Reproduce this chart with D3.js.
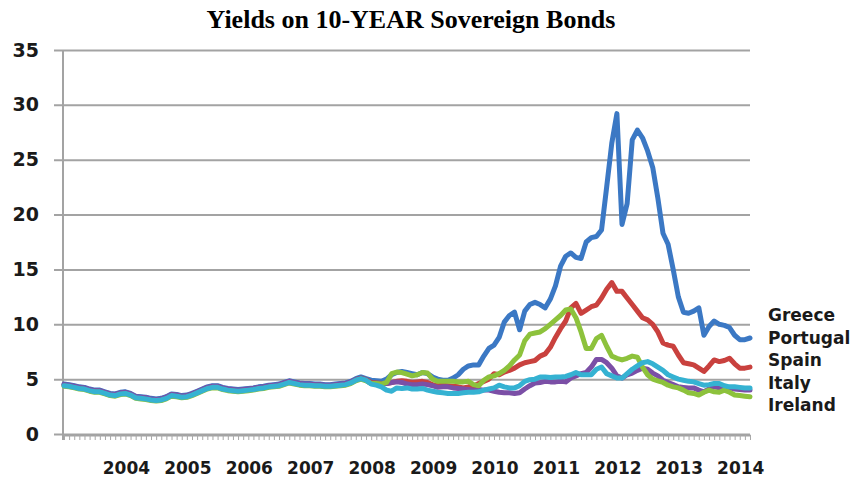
<!DOCTYPE html>
<html>
<head>
<meta charset="utf-8">
<script src="https://cdn.jsdelivr.net/npm/d3@7"></script>
<style>
  body { margin: 0; background: #fff; }
  svg { display: block; }
</style>
</head>
<body>
<div id="chart"></div>
<script>
// monthly yields, Jan 2003 .. Mar 2014
var greece = [4.55,4.5,4.4,4.3,4.25,4.1,4.0,4.0,3.85,3.7, 3.65,3.8,3.85,3.7,3.45,3.4,3.35,3.25,3.2,3.25,
  3.4,3.65,3.6,3.5,3.55,3.7,3.9,4.1,4.3,4.4, 4.4,4.25,4.15,4.1,4.05,4.1,4.15,4.2,4.3,4.35,
  4.45,4.5,4.55,4.7,4.85,4.75,4.65,4.6,4.6,4.55, 4.55,4.5,4.5,4.55,4.6,4.65,4.8,5.05,5.2,5.05,
  4.9,4.85,4.8,5.0,5.4,5.6,5.7,5.6,5.5,5.4, 5.6,5.5,5.2,5.0,4.9,4.9,5.1,5.4,5.9,6.2,
  6.3,6.3,7.1,7.8,8.1,8.8,10.2,10.8,11.1,9.5, 11.2,11.8,12.0,11.8,11.5,12.3,13.5,15.3,16.2,16.5,
  16.1,16.0,17.5,17.9,18.0,18.6,22.5,26.5,29.2,19.1, 21.0,26.8,27.7,27.0,25.8,24.3,21.5,18.3,17.3,15.0,
  12.5,11.1,11.0,11.2,11.5,9.0,9.8,10.3,10.0,9.9, 9.7,9.0,8.6,8.6,8.75];

var portugal = [4.45,4.4,4.3,4.2,4.15,4.0,3.9,3.9,3.75,3.6, 3.55,3.7,3.75,3.6,3.35,3.3,3.25,3.15,3.1,3.15,
  3.3,3.55,3.5,3.4,3.45,3.6,3.8,4.0,4.2,4.3, 4.3,4.15,4.05,4.0,3.95,4.0,4.05,4.1,4.2,4.25,
  4.35,4.4,4.45,4.6,4.75,4.65,4.55,4.5,4.5,4.45, 4.45,4.4,4.4,4.45,4.5,4.55,4.7,4.95,5.1,4.95,
  4.7,4.65,4.6,4.6,4.7,4.8,4.85,4.8,4.7,4.75, 4.8,4.7,4.5,4.4,4.45,4.4,4.35,4.3,4.2,4.3,
  4.35,4.6,4.8,5.0,5.5,5.4,5.65,5.8,6.0,6.3, 6.5,6.6,6.7,7.1,7.3,7.9,8.8,9.6,10.3,11.5,
  11.9,11.0,11.3,11.6,11.75,12.4,13.2,13.8,13.0,13.0, 12.4,11.8,11.2,10.6,10.4,10.0,9.3,8.3,8.1,8.0,
  7.2,6.5,6.4,6.3,6.0,5.7,6.2,6.75,6.6,6.7, 6.9,6.4,6.0,6.0,6.1];

var spain = [4.4,4.35,4.25,4.15,4.1,3.95,3.85,3.85,3.7,3.55, 3.5,3.65,3.7,3.55,3.3,3.25,3.2,3.1,3.05,3.1,
  3.25,3.5,3.45,3.35,3.4,3.55,3.75,3.95,4.15,4.25, 4.25,4.1,4.0,3.95,3.9,3.95,4.0,4.05,4.15,4.2,
  4.3,4.35,4.4,4.55,4.7,4.6,4.5,4.45,4.45,4.4, 4.4,4.35,4.35,4.4,4.45,4.5,4.65,4.9,5.05,4.9,
  4.55,4.45,4.3,4.0,3.9,4.2,4.15,4.2,4.1,4.1, 4.15,4.0,3.9,3.8,3.75,3.7,3.7,3.7,3.75,3.8,
  3.8,3.85,4.0,4.1,4.2,4.45,4.3,4.2,4.2,4.4, 4.8,4.95,5.0,5.2,5.2,5.15,5.2,5.2,5.25,5.4,
  5.6,5.4,5.4,5.4,5.9,6.1,5.5,5.3,5.1,5.1, 5.5,5.9,6.2,6.5,6.6,6.4,6.1,5.8,5.4,5.2,
  5.0,4.9,4.8,4.75,4.6,4.45,4.5,4.6,4.6,4.4, 4.3,4.3,4.25,4.2,4.2];

var italy = [4.5,4.45,4.35,4.25,4.2,4.05,3.95,3.95,3.8,3.65, 3.6,3.75,3.8,3.65,3.4,3.35,3.3,3.2,3.15,3.2,
  3.35,3.6,3.55,3.45,3.5,3.65,3.85,4.05,4.25,4.35, 4.35,4.2,4.1,4.05,4.0,4.05,4.1,4.15,4.25,4.3,
  4.4,4.45,4.5,4.65,4.8,4.7,4.6,4.55,4.55,4.5, 4.5,4.45,4.45,4.5,4.55,4.6,4.75,4.95,5.05,4.9,
  4.6,4.6,4.55,4.6,4.7,4.75,4.7,4.55,4.5,4.5, 4.55,4.5,4.4,4.25,4.3,4.3,4.2,4.15,4.1,4.05,
  4.0,4.05,4.0,4.0,3.9,3.8,3.75,3.75,3.7,3.75, 4.1,4.4,4.65,4.7,4.8,4.75,4.75,4.8,4.75,5.1,
  5.3,5.5,5.6,6.1,6.8,6.8,6.5,6.0,5.3,5.1, 5.4,5.55,5.8,6.0,5.9,5.55,5.3,4.9,4.7,4.5,
  4.3,4.25,4.2,4.2,4.0,3.85,4.1,4.3,4.2,4.25, 4.2,4.1,4.05,4.0,4.0];

var ireland = [4.35,4.3,4.2,4.1,4.05,3.9,3.8,3.8,3.65,3.5, 3.45,3.6,3.65,3.5,3.25,3.2,3.15,3.05,3.0,3.05,
  3.2,3.45,3.4,3.3,3.35,3.5,3.7,3.9,4.1,4.2, 4.2,4.05,3.95,3.9,3.85,3.9,3.95,4.0,4.1,4.15,
  4.25,4.3,4.35,4.5,4.65,4.55,4.45,4.4,4.4,4.35, 4.35,4.3,4.3,4.35,4.4,4.45,4.6,4.85,5.0,4.85,
  4.6,4.6,4.55,4.7,5.5,5.65,5.6,5.45,5.3,5.4, 5.6,5.55,5.0,4.8,4.8,4.8,4.8,4.75,4.75,4.8,
  4.5,4.4,4.9,5.2,5.3,5.5,5.8,6.2,6.75,7.2, 8.5,9.1,9.2,9.3,9.6,10.0,10.4,10.8,11.3,11.4,
  10.6,9.3,7.8,7.8,8.7,9.0,8.0,7.1,6.9,6.75, 6.9,7.1,7.0,6.1,5.4,5.0,4.85,4.7,4.45,4.3,
  4.2,4.0,3.75,3.7,3.55,3.8,4.0,3.85,3.8,4.0, 3.8,3.55,3.5,3.45,3.4];

var seriesNames = ["Greece", "Portugal", "Spain", "Italy", "Ireland"];
var yearLabels = ["2004","2005","2006","2007","2008","2009","2010","2011","2012","2013","2014"];
var yTicks = [0, 5, 10, 15, 20, 25, 30, 35];

var series = [
  {name: "Greece", values: greece, color: "#3b78c4"},
  {name: "Portugal", values: portugal, color: "#c9413e"},
  {name: "Italy", values: italy, color: "#7b4fa6"},
  {name: "Ireland", values: ireland, color: "#8dc23c"},
  {name: "Spain", values: spain, color: "#35b2d2"}
];

var width = 850, height = 479;
var svg = d3.select("#chart").append("svg")
  .attr("width", width)
  .attr("height", height);

var nMonths = greece.length;
var x = d3.scaleLinear().domain([0, nMonths - 1]).range([64, 750]);
var y = d3.scaleLinear().domain([0, 35]).range([434, 50]);

// title
svg.append("text")
  .attr("x", 411)
  .attr("y", 28)
  .attr("text-anchor", "middle")
  .style("font-family", "'Liberation Serif', 'Times New Roman', serif")
  .style("font-weight", "bold")
  .style("font-size", "26px")
  .text("Yields on 10-YEAR Sovereign Bonds");

// horizontal gridlines + y labels
var yAxis = svg.append("g")
  .attr("transform", "translate(63,0)")
  .call(d3.axisLeft(y).tickValues(yTicks).tickSize(-687).tickSizeOuter(0).tickPadding(24));
yAxis.select(".domain").remove();
yAxis.selectAll(".tick line")
  .attr("x1", -9)
  .attr("stroke", "#a3a3a3")
  .attr("stroke-width", 2);
yAxis.selectAll(".tick text")
  .attr("fill", "#1a1a1a")
  .style("font-family", "'DejaVu Sans', Verdana, sans-serif")
  .style("font-weight", "bold")
  .style("font-size", "19px");

// vertical axis line
svg.append("line")
  .attr("x1", 63).attr("x2", 63)
  .attr("y1", 50).attr("y2", 440)
  .attr("stroke", "#a3a3a3")
  .attr("stroke-width", 2);

// x axis with monthly ticks
var xAxis = svg.append("g")
  .attr("transform", "translate(0,435)")
  .call(d3.axisBottom(x).tickValues(d3.range(0, nMonths)).tickSize(5).tickSizeOuter(0).tickFormat(""));
xAxis.select(".domain").attr("stroke", "#a3a3a3").attr("stroke-width", 2);
xAxis.selectAll(".tick line").attr("stroke", "#a8a8a8").attr("stroke-width", 1);

svg.append("g").selectAll("text")
  .data(yearLabels)
  .enter()
  .append("text")
  .attr("x", (d, i) => x(12 * (i + 1)) + 1)
  .attr("y", 474)
  .attr("text-anchor", "middle")
  .attr("fill", "#1a1a1a")
  .style("font-family", "'DejaVu Sans', Verdana, sans-serif")
  .style("font-weight", "bold")
  .style("font-size", "17px")
  .text(d => d);

// lines
var line = d3.line()
  .x((d, i) => x(i))
  .y(d => y(d));

svg.append("g").selectAll("path")
  .data(series)
  .enter()
  .append("path")
  .attr("d", d => line(d.values))
  .attr("fill", "none")
  .attr("stroke", d => d.color)
  .attr("stroke-width", 5)
  .attr("stroke-linejoin", "round")
  .attr("stroke-linecap", "round");

// legend (text only)
svg.append("g").selectAll("text")
  .data(seriesNames)
  .enter()
  .append("text")
  .attr("x", 768)
  .attr("y", (d, i) => 321 + i * 22.5)
  .attr("fill", "#1a1a1a")
  .style("font-family", "'DejaVu Sans', Verdana, sans-serif")
  .style("font-weight", "bold")
  .style("font-size", "17px")
  .text(d => d);
</script>
</body>
</html>
